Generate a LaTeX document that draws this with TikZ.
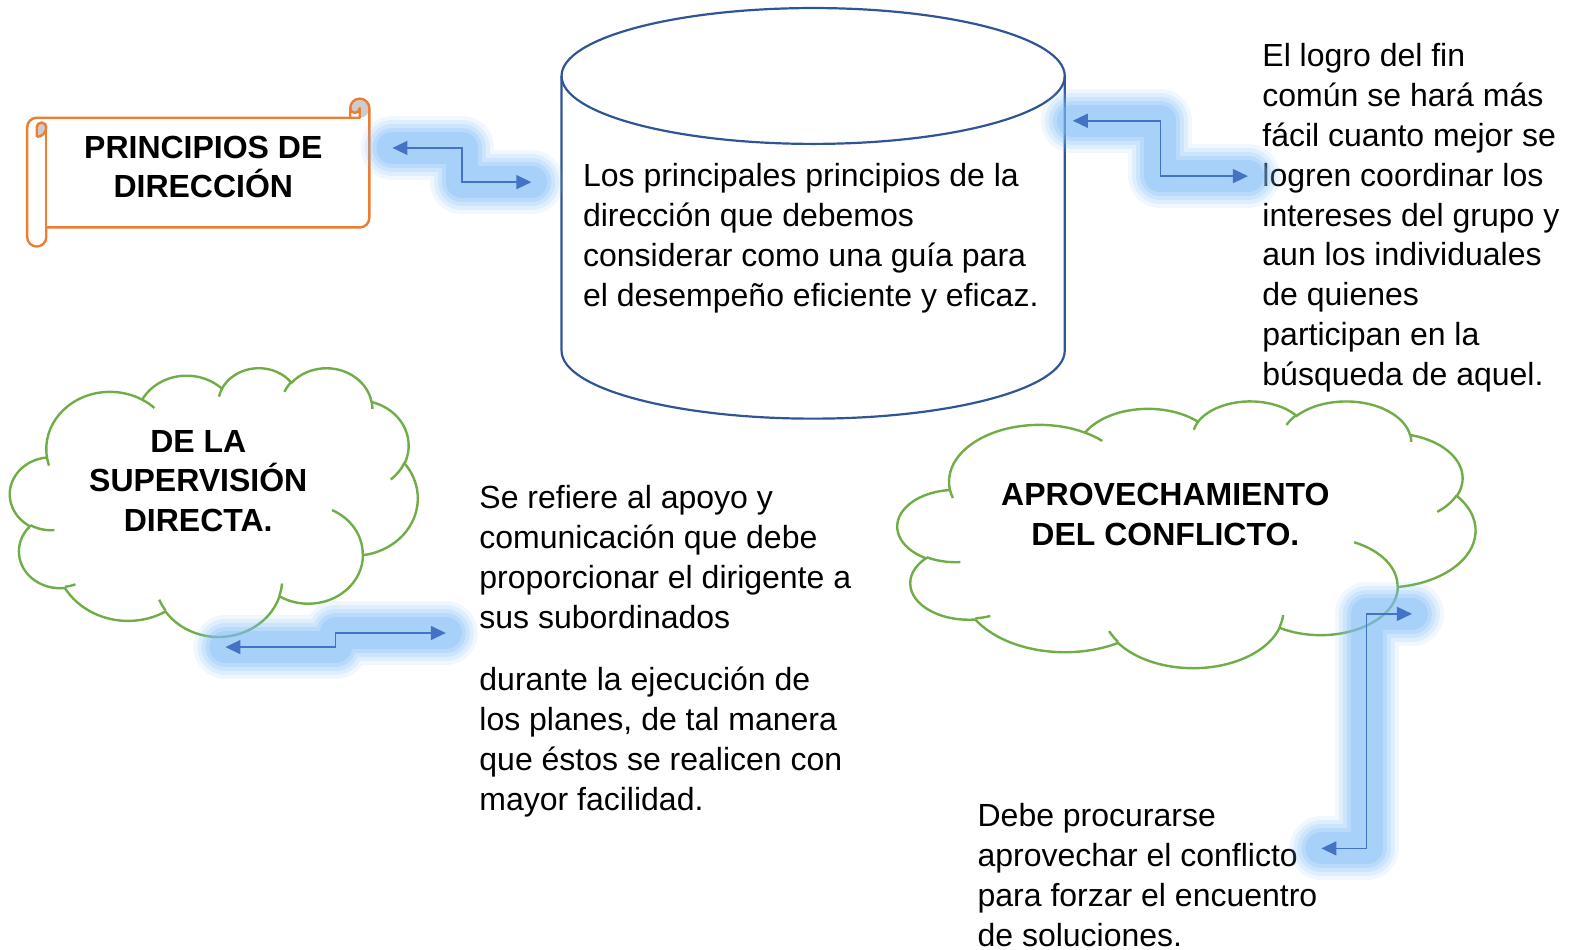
\documentclass[tikz,border=0pt]{standalone}
\usepackage{fontspec}
\setmainfont{Liberation Sans}
\usetikzlibrary{positioning, arrows.meta, calc}

\definecolor{scrollorange}{HTML}{ED7D31}
\definecolor{curlgray}{HTML}{CCCCCC}
\definecolor{cylblue}{HTML}{2F5597}
\definecolor{cloudgreen}{HTML}{70AD47}
\definecolor{linkblue}{HTML}{4472C4}
\definecolor{glowblue}{RGB}{128,188,248}

\tikzset{
  txt/.style={align=left, anchor=north west, inner sep=0pt, font=\fontsize{16}{19.9}\selectfont},
  title/.style={align=center, inner sep=0pt, font=\fontsize{16}{19.9}\selectfont\bfseries},
  cyl/.style={draw=cylblue, line width=1.1pt},
  scrollline/.style={draw=scrollorange, line width=1.2pt, line join=round},
  cloudline/.style={draw=cloudgreen, line width=1.2pt},
  link/.style={draw=linkblue, line width=0.75pt, {Triangle[length=7.5pt,width=7pt]}-{Triangle[length=7.5pt,width=7pt]}},
  elbow/.style={to path={-| ($(\tikztostart)!.5!(\tikztotarget)$) |- (\tikztotarget)}},
  % office cloud, 432 x 432 units
  cloudpic/.pic={
    \draw[cloudline] (39,143.7)
      \foreach \rx/\ry/\s/\w in {67.53/91.90/-190.4875/123.7805, 53.33/72.67/-144.1024/89.9452,
        43.65/59.45/-145.8079/99.7230, 48.57/65.95/-130.9861/117.2417, 53.33/72.73/-78.7089/109.0269,
        67.75/92.20/-46.2673/130.2690, 57.85/78.67/0.6250/114.0333, 67.52/92.15/22.4516/115.1726,
        77.20/105.43/66.2426/75.7110, 43.60/59.18/-274.9421/146.7356, 43.45/59.45/-246.8285/152.5189}
      { arc[start angle={pa(\s,\rx,\ry)}, end angle={pa(\s+\w,\rx,\ry)}, x radius=\rx, y radius=\ry] } -- cycle;
    \draw[cloudline]
      \foreach \x/\y/\rx/\ry/\s/\w in {46.93/261.77/43.45/59.45/86.7420/26.4295,
        69.28/348.99/43.60/59.18/73.6105/11.4475, 164.78/390.90/67.52/92.15/137.6242/14.0811,
        288.27/347.51/67.52/92.15/6.4533/15.9984, 341.29/229.54/57.85/78.67/-70.2924/70.9174,
        417.98/153.54/53.33/72.73/30.3180/27.7515, 383.24/54.26/48.57/65.95/-13.7443/14.8589,
        290.78/39.52/48.57/65.95/-149.1815/18.1954, 221.41/47.20/43.65/59.45/-163.4943/17.6864,
        140.00/51.92/67.53/91.90/-66.7070/12.3194, 41.27/157.89/67.53/91.90/157.6544/11.8582}
      { (\x,\y) arc[start angle={pa(\s,\rx,\ry)}, end angle={pa(\s+\w,\rx,\ry)}, x radius=\rx, y radius=\ry] };
  }
}

\begin{document}
\begin{tikzpicture}[x=0.50319pt, y=-0.50319pt,
  declare function={pa(\t,\a,\b)=\t+atan2(\a*sin(\t),\b*cos(\t))-atan2(sin(\t),cos(\t));}]
\useasboundingbox (0,0) rectangle (1568,943);

% cylinder
\draw[cyl] (558,75.5) -- (558,348.5) arc[start angle=180, end angle=0, x radius=250, y radius=67.5] -- (1058,75.5);
\draw[cyl] (808,75.5) ellipse [x radius=250, y radius=67.5];
\node[txt] (guia) at (579,162) {Los principales principios de la\\dirección que debemos\\considerar como una guía para\\el desempeño eficiente y eficaz.};

% scroll
\fill[curlgray] (36.5,136) -- (36.5,126.5) arc[start angle=180, end angle=360, radius=4.75] arc[start angle=0, end angle=90, radius=9.5] -- cycle;
\fill[curlgray] (357.5,107.5) arc[start angle=0, end angle=180, radius=4.75] arc[start angle=180, end angle=360, radius=9.5] arc[start angle=0, end angle=90, radius=9.5] -- cycle;
\draw[scrollline] (27,126.5) arc[start angle=180, end angle=270, radius=9.5] -- (348,117) -- (348,107.5)
  arc[start angle=180, end angle=360, radius=9.5] -- (367,216.5) arc[start angle=0, end angle=90, radius=9.5]
  -- (46,226) -- (46,235.5) arc[start angle=0, end angle=180, radius=9.5] -- cycle;
\draw[scrollline] (348,117) -- (357.5,117) -- (357.5,107.5) arc[start angle=0, end angle=180, radius=4.75];
\draw[scrollline] (36.5,136) -- (36.5,126.5) arc[start angle=180, end angle=360, radius=4.75] arc[start angle=0, end angle=90, radius=9.5];
\draw[scrollline] (46,126.5) -- (46,226);
\node[title] (principios) at (202,166) {PRINCIPIOS DE\\DIRECCIÓN};

% clouds
\begin{scope}[shift={(10,365)}, x=0.47174pt, y=-0.31100pt]
  \pic {cloudpic};
\end{scope}
\begin{scope}[shift={(892,398)}, x=0.66859pt, y=-0.30867pt]
  \pic {cloudpic};
\end{scope}
\node[title] (supervision) at (197,478) {DE LA\\SUPERVISIÓN\\DIRECTA.};
\node[title] (aprovecha) at (1158,511) {APROVECHAMIENTO\\DEL CONFLICTO.};

% texts
\node[txt] (fin) at (1254,43) {El logro del fin\\común se hará más\\fácil cuanto mejor se\\logren coordinar los\\intereses del grupo y\\aun los individuales\\de quienes\\participan en la\\búsqueda de aquel.};
\node[txt] (apoyo) at (476,482) {Se refiere al apoyo y\\comunicación que debe\\proporcionar el dirigente a\\sus subordinados};
\node[txt, below=19pt of apoyo.south west, anchor=north west] (planes) {durante la ejecución de\\los planes, de tal manera\\que éstos se realicen con\\mayor facilidad.};
\node[txt] (procurar) at (971,798) {Debe procurarse\\aprovechar el conflicto\\para forzar el encuentro\\de soluciones.};

% arrows
\coordinate (a1l) at (390,147);
\coordinate (a1r) at (528,181);
\coordinate (a2l) at (1066,120);
\coordinate (a2r) at (1240,175);
\coordinate (a3l) at (224,643);
\coordinate (a3r) at (443,629);
\coordinate (a4t) at (1403,610);
\coordinate (a4b) at (1313,843);
\foreach \p/\q in {a1l/a1r, a2l/a2r, a3l/a3r, a4t/a4b}
  \foreach \lw/\op in {32/0.12, 28/0.15, 24/0.2, 20/0.25, 16/0.3}
    \draw[glowblue, line width=\lw pt, opacity=\op, line cap=round, line join=round] (\p) to[elbow] (\q);
\foreach \p/\q in {a1l/a1r, a2l/a2r, a3l/a3r, a4t/a4b}
  \draw[link] (\p) to[elbow] (\q);
\end{tikzpicture}
\end{document}
